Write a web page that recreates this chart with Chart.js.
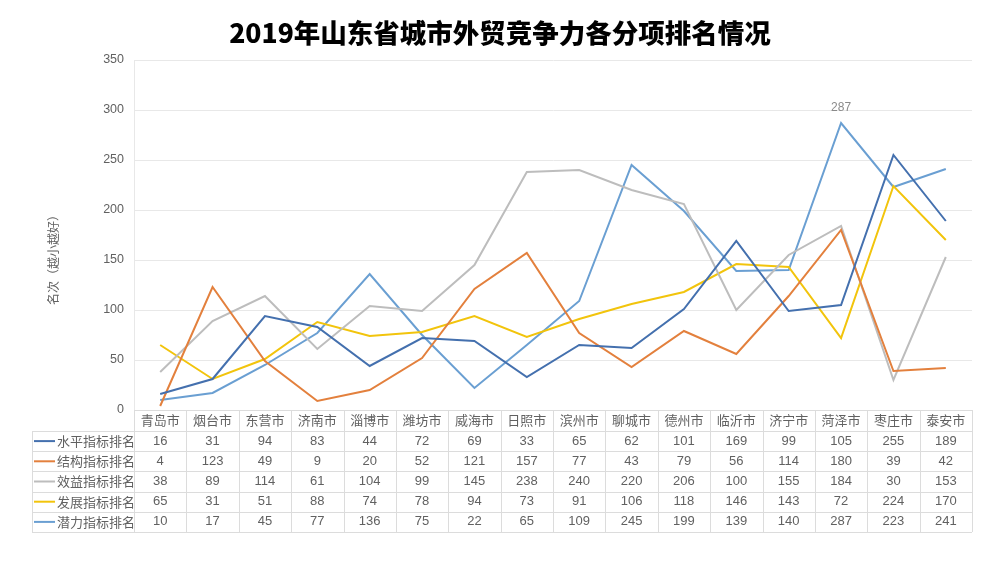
<!DOCTYPE html>
<html><head><meta charset="utf-8">
<script src="https://cdn.jsdelivr.net/npm/chart.js@4.4.1/dist/chart.umd.min.js"></script>
<style>
html,body{margin:0;padding:0;background:#fff;}
#wrap{width:1000px;height:563px;position:relative;}
</style></head>
<body><div id="wrap"><canvas id="c" width="1000" height="563"></canvas></div>
<script>
const categories = ['青岛市','烟台市','东营市','济南市','淄博市','潍坊市','威海市','日照市','滨州市','聊城市','德州市','临沂市','济宁市','菏泽市','枣庄市','泰安市'];
const seriesNames = ['水平指标排名','结构指标排名','效益指标排名','发展指标排名','潜力指标排名'];
const levelRank     = [16,31,94,83,44,72,69,33,65,62,101,169,99,105,255,189];
const structureRank = [4,123,49,9,20,52,121,157,77,43,79,56,114,180,39,42];
const benefitRank   = [38,89,114,61,104,99,145,238,240,220,206,100,155,184,30,153];
const developRank   = [65,31,51,88,74,78,94,73,91,106,118,146,143,72,224,170];
const potentialRank = [10,17,45,77,136,75,22,65,109,245,199,139,140,287,223,241];
const yTicks = [0,50,100,150,200,250,300,350];
const yTitle = '名次（越小越好）';
const chartTitle = '2019年山东省城市外贸竞争力各分项排名情况';

const seriesValues = [levelRank, structureRank, benefitRank, developRank, potentialRank];
const colors = ['#4470AE','#E3803D','#BDBDBD','#F2C40C','#6A9FD2'];
const FONT = '"Noto Sans CJK SC","Noto Sans",sans-serif';
const GRAY = '#616161';

const tablePlugin = {
  id: 'dataTable',
  afterDraw(chart) {
    const ctx = chart.ctx;
    const xs = chart.scales.x;
    const area = chart.chartArea;
    const left = area.left, right = area.right;
    const n = categories.length;
    const cw = (right - left) / n;
    const top = area.bottom;
    const headH = 21;
    const rowH = 20.2;
    const tabLeft = 32;
    const bottom = top + headH + rowH * seriesNames.length;
    ctx.save();
    // title
    ctx.fillStyle = '#000';
    ctx.font = '900 26.5px ' + FONT;
    ctx.textAlign = 'center';
    ctx.textBaseline = 'middle';
    ctx.fillText(chartTitle, 500, 33);
    ctx.strokeStyle = '#DCDCDC';
    ctx.lineWidth = 1;
    ctx.beginPath();
    ctx.moveTo(left, top + 0.5); ctx.lineTo(right, top + 0.5);
    for (let r = 0; r <= seriesNames.length; r++) {
      const y = Math.round(top + headH + r * rowH) + 0.5;
      ctx.moveTo(tabLeft, y); ctx.lineTo(right, y);
    }
    for (let i = 0; i <= n; i++) {
      const x = Math.round(left + i * cw) + 0.5;
      ctx.moveTo(x, top); ctx.lineTo(x, bottom);
    }
    ctx.moveTo(tabLeft + 0.5, top + headH); ctx.lineTo(tabLeft + 0.5, bottom);
    ctx.stroke();
    ctx.fillStyle = GRAY;
    ctx.font = '13px ' + FONT;
    for (let i = 0; i < n; i++) {
      ctx.fillText(categories[i], xs.getPixelForValue(i), top + headH / 2);
    }
    for (let r = 0; r < seriesNames.length; r++) {
      const yc = top + headH + r * rowH + rowH / 2;
      ctx.strokeStyle = colors[r];
      ctx.lineWidth = 2;
      ctx.beginPath(); ctx.moveTo(34, yc); ctx.lineTo(55, yc); ctx.stroke();
      ctx.textAlign = 'left';
      ctx.font = '13px ' + FONT;
      ctx.fillText(seriesNames[r], 57, yc);
      ctx.textAlign = 'center';
      ctx.font = '13px "Liberation Sans",Arial,sans-serif';
      for (let i = 0; i < n; i++) {
        ctx.fillText(String(seriesValues[r][i]), xs.getPixelForValue(i), yc);
      }
    }
    // max label
    const ds = chart.getDatasetMeta(4);
    const maxIdx = potentialRank.indexOf(Math.max(...potentialRank));
    const pt = ds.data[maxIdx];
    ctx.font = '12px "Liberation Sans",Arial,sans-serif';
    ctx.fillStyle = '#8A8A8A';
    ctx.textAlign = 'center';
    ctx.fillText(String(potentialRank[maxIdx]), pt.x, pt.y - 15);
    // y axis title
    ctx.save();
    ctx.translate(53, 257);
    ctx.rotate(-Math.PI / 2);
    ctx.font = '12px ' + FONT;
    ctx.fillStyle = GRAY;
    ctx.textAlign = 'center';
    ctx.textBaseline = 'middle';
    ctx.fillText(yTitle, 0, 0);
    ctx.restore();
    ctx.restore();
  }
};

new Chart(document.getElementById('c'), {
  type: 'line',
  data: {
    labels: categories,
    datasets: seriesNames.map((name, k) => ({
      label: name,
      data: seriesValues[k],
      borderColor: colors[k],
      backgroundColor: colors[k],
      borderWidth: 2,
      pointRadius: 0,
      tension: 0,
      fill: false
    }))
  },
  options: {
    responsive: false,
    animation: false,
    layout: { padding: { left: 0, right: 28, top: 60, bottom: 153 } },
    plugins: {
      legend: { display: false },
      tooltip: { enabled: false },
      title: { display: false }
    },
    scales: {
      x: { type: 'category', offset: true, display: false },
      y: {
        min: 0, max: 350,
        afterBuildTicks(scale) { scale.ticks = yTicks.map(v => ({ value: v })); },
        afterFit(scale) { scale.width = 134; },
        ticks: { color: GRAY, font: { family: '"Liberation Sans",Arial,sans-serif', size: 12.5 }, padding: 10 },
        grid: { color: '#E8E8E8', drawTicks: false },
        border: { display: true, color: '#E8E8E8' },
        title: { display: false }
      }
    }
  },
  plugins: [tablePlugin]
});
</script>
</body></html>
